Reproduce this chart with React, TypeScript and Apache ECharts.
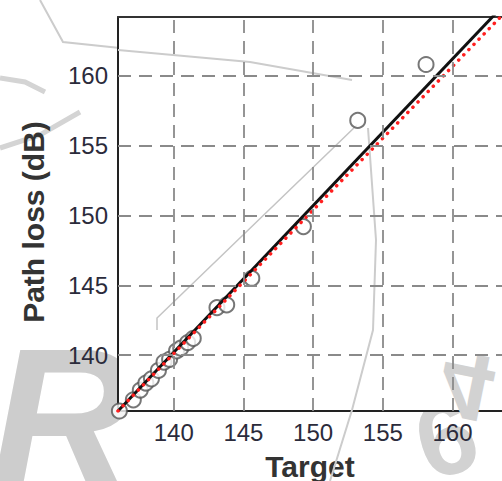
import React, { useEffect, useRef } from "react";
import * as echarts from "echarts";

// Scatter data (Target vs Path loss)
const targetValues = [136.1, 137.1, 137.6, 138.0, 138.4, 138.9, 139.3, 139.7, 140.2, 140.5, 141.0, 141.4, 143.1, 143.8, 145.6, 149.3, 153.2, 158.1];
const pathLossValues = [136.0, 136.8, 137.5, 138.0, 138.3, 138.9, 139.5, 139.7, 140.3, 140.5, 140.9, 141.2, 143.4, 143.6, 145.5, 149.2, 156.8, 160.8];

// Fitted line (black, solid) and reference line (red, dotted)
const fitX = [136, 165];
const fitY = [136, 166.45];
const refX = [136, 165];
const refY = [136, 165.8];

// Tick / grid values
const xGridTicks = [140, 145, 150, 155, 160];
const yGridTicks = [140, 145, 150, 155, 160];

const X_MIN = 136;
const X_MAX = 163.55;
const Y_MIN = 136;
const Y_MAX = 164.2;

const FONT = '"Liberation Sans", Arial, sans-serif';

export default function App() {
  const ref = useRef<HTMLDivElement>(null);
  useEffect(() => {
    if (!ref.current) return;
    const chart = echarts.init(ref.current, null, { renderer: "svg" });
    const gridLines = [
      ...xGridTicks.map((v) => ({ xAxis: v })),
      ...yGridTicks.map((v) => ({ yAxis: v })),
    ];
    const labelFmt = (v: number) => (v % 5 === 0 && v >= 140 && v <= 160 ? String(v) : "");
    chart.setOption({
      animation: false,
      backgroundColor: "#ffffff",
      grid: {
        show: true,
        left: 118,
        top: 17,
        bottom: 70,
        right: 0,
        outerBoundsMode: "none",
        backgroundColor: "#ffffff",
        borderWidth: 0,
      },
      xAxis: [
        {
          type: "value",
          min: X_MIN,
          max: X_MAX,
          interval: 1,
          name: "Target",
          nameLocation: "middle",
          nameGap: 40,
          nameTextStyle: {
            fontFamily: FONT,
            fontSize: 30,
            fontWeight: "bold",
            color: "#333",
          },
          axisLine: { show: true, lineStyle: { color: "#222", width: 2 } },
          axisTick: { show: false },
          splitLine: { show: false },
          axisLabel: {
            fontFamily: FONT,
            fontSize: 24,
            color: "#2b2b3b",
            margin: 9,
            formatter: labelFmt,
          },
        },
        {
          type: "value",
          position: "top",
          min: X_MIN,
          max: X_MAX,
          interval: 1,
          axisLine: { show: true, lineStyle: { color: "#333", width: 2 } },
          axisTick: { show: false },
          splitLine: { show: false },
          axisLabel: { show: false },
        },
      ],
      yAxis: {
        type: "value",
        min: Y_MIN,
        max: Y_MAX,
        interval: 1,
        name: "Path loss (dB)",
        nameLocation: "middle",
        nameRotate: 90,
        nameGap: 70,
        nameTextStyle: {
          fontFamily: FONT,
          fontSize: 30,
          fontWeight: "bold",
          color: "#333",
          padding: [0, 16, 0, 0],
        },
        axisLine: { show: true, lineStyle: { color: "#222", width: 2 } },
        axisTick: { show: false },
        splitLine: { show: false },
        axisLabel: {
          fontFamily: FONT,
          fontSize: 24,
          color: "#2b2b3b",
          margin: 10,
          formatter: labelFmt,
        },
      },
      graphic: [
        {
          type: "text",
          z: -1,
          x: -10,
          y: 318,
          style: {
            text: "R",
            font: `italic 900 200px ${FONT}`,
            fill: "#cdcdcd",
          },
        },
        {
          type: "text",
          z: -1,
          x: 446,
          y: 438,
          rotation: 0.3,
          style: {
            text: "6",
            font: `bold 105px ${FONT}`,
            fill: "#d2d2d2",
            align: "center",
            verticalAlign: "middle",
          },
        },
        {
          type: "text",
          z: 1,
          x: 466,
          y: 386,
          rotation: -0.2,
          scaleY: -1,
          style: {
            text: "4",
            font: `bold 95px ${FONT}`,
            fill: "#d2d2d2",
            align: "center",
            verticalAlign: "middle",
          },
        },
        {
          type: "polyline",
          z: 1,
          shape: { points: [[157, 330], [157, 318], [357, 125]] },
          style: { stroke: "#c4c4c4", lineWidth: 1.5, fill: "none" },
        },
        {
          type: "polyline",
          z: 1,
          shape: { points: [[368, 128], [376, 240], [373, 330], [352, 410], [330, 481]] },
          style: { stroke: "#cccccc", lineWidth: 2, fill: "none" },
        },
        {
          type: "polyline",
          z: 1,
          shape: { points: [[118, 50], [250, 62], [352, 80]] },
          style: { stroke: "#cccccc", lineWidth: 2, fill: "none" },
        },
        {
          type: "polyline",
          z: -1,
          shape: { points: [[40, 0], [63, 42], [120, 48]] },
          style: { stroke: "#cccccc", lineWidth: 2, fill: "none" },
        },
        {
          type: "polyline",
          z: -1,
          shape: { points: [[0, 148], [40, 135], [80, 112]] },
          style: { stroke: "#d4d4d4", lineWidth: 5, fill: "none" },
        },
        {
          type: "polyline",
          z: -1,
          shape: { points: [[0, 78], [25, 82], [45, 92]] },
          style: { stroke: "#d4d4d4", lineWidth: 5, fill: "none" },
        },
      ],
      series: [
        {
          type: "line",
          z: 1,
          data: [],
          silent: true,
          markLine: {
            silent: true,
            symbol: ["none", "none"],
            label: { show: false },
            lineStyle: { color: "#8a8a8a", width: 1.8, type: [13, 8] },
            data: gridLines,
          },
        },
        {
          type: "scatter",
          z: 2,
          data: targetValues.map((x, i) => [x, pathLossValues[i]]),
          symbol: "emptyCircle",
          symbolSize: 15,
          itemStyle: { color: "#555", borderColor: "#555", borderWidth: 1.5 },
        },
        {
          type: "line",
          z: 3,
          data: fitX.map((x, i) => [x, fitY[i]]),
          showSymbol: false,
          symbol: "none",
          lineStyle: { color: "#111", width: 3 },
        },
        {
          type: "line",
          z: 4,
          data: refX.map((x, i) => [x, refY[i]]),
          showSymbol: false,
          symbol: "none",
          lineStyle: { color: "#ff1f1f", width: 3.5, type: [0.1, 7.2], cap: "round" },
        },
      ],
    });
    return () => chart.dispose();
  }, []);
  return (
    <div
      ref={ref}
      style={{ position: "fixed", left: 0, top: 0, width: 502, height: 481 }}
    />
  );
}
